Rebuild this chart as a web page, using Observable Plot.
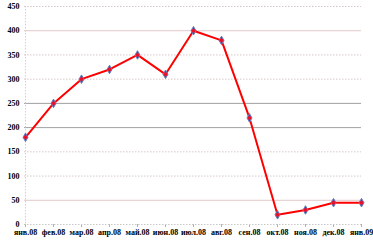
<!DOCTYPE html>
<html><head><meta charset="utf-8">
<script src="https://cdn.jsdelivr.net/npm/d3@7"></script>
<script src="https://cdn.jsdelivr.net/npm/@observablehq/plot@0.6"></script>
<style>body{margin:0;background:#fff}</style>
</head><body><div id="chart"></div>
<script>
const months = ["янв.08","фев.08","мар.08","апр.08","май.08","июн.08","июл.08","авг.08","сен.08","окт.08","ноя.08","дек.08","янв.09"];
const values = [180,250,300,320,350,310,400,380,220,20,30,45,45];
const yTicks = [0,50,100,150,200,250,300,350,400,450];
const solidGrid = [200,250];
const lightGrid = [50,400];
const dottedGrid = [100,150,300,350,450];

const data = months.map((m,i)=>({m, v: values[i]}));
const font = "'Liberation Serif', 'Times New Roman', serif";

const chart = Plot.plot({
  width: 373, height: 240,
  marginLeft: 24, marginRight: 12, marginTop: 6, marginBottom: 16,
  style: {fontFamily: font, fontSize: "8px", fontWeight: "bold", background: "#fff", color: "#000"},
  x: {type: "point", domain: months, padding: 0, label: null, tickSize: 3, tickPadding: 2},
  y: {domain: [0,450], ticks: yTicks, label: null, tickSize: 0, tickPadding: 5, tickFormat: d3.format("d")},
  marks: [
    Plot.ruleY(dottedGrid, {stroke: "#d8c8c8", strokeDasharray: "1.5,1.5", strokeWidth: 1}),
    Plot.ruleY(lightGrid, {stroke: "#e2c8c8", strokeWidth: 1}),
    Plot.ruleY(solidGrid, {stroke: "#a0a0a0", strokeWidth: 1}),
    Plot.ruleY([0], {stroke: "#c8c8c8", strokeDasharray: "1.5,1.5"}),
    Plot.ruleX([months[0]], {stroke: "#d0d0d0", strokeDasharray: "1.5,1.5"}),
    Plot.line(data, {x: "m", y: "v", stroke: "#ff0000", strokeWidth: 2}),
    Plot.dot(data, {x: "m", y: "v", symbol: "diamond", r: 2.6, fill: "#e8102a", stroke: "#5b7fc4", strokeWidth: 1})
  ]
});
chart.querySelectorAll("[aria-label='x-axis tick']").forEach(e=>e.setAttribute("stroke","#b0b0b0"));
document.getElementById("chart").append(chart);
</script></body></html>
